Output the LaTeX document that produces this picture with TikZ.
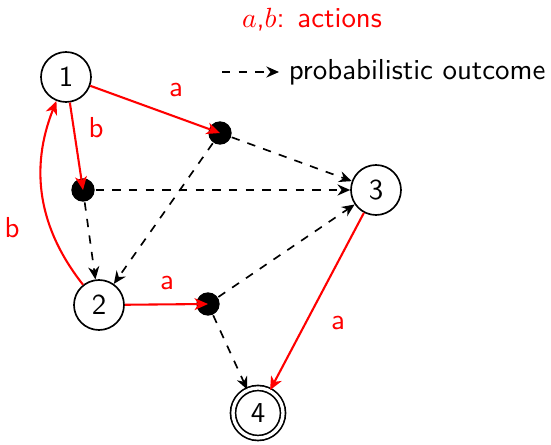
\documentclass[tikz,border=0pt]{standalone}
\usetikzlibrary{arrows.meta,positioning}

\begin{document}
\begin{tikzpicture}[x=0.36pt,y=-0.36pt,font=\sffamily\fontsize{10.4}{12}\selectfont,semithick,
      state/.style={draw,circle,minimum size=18pt,inner sep=0pt},
      final/.style={state,double,double distance=1.2pt},
      choice/.style={circle,fill=black,minimum size=8.4pt,inner sep=0pt},
      act/.style={red,line width=0.75pt,-{Stealth[length=1.7mm,width=1.5mm,inset=0.5mm]}},
      outcome/.style={dashed,-{Stealth[length=1.6mm,width=1.4mm]}},
      lab/.style={red}]
    \useasboundingbox (0,0) rectangle (551,445);
    % states
    \node[state] (one) at (66,77) {1};
    \node[state] (two) at (99,305) {2};
    \node[state] (three) at (376,190) {3};
    \node[final] (four) at (258,413) {4};
    % outcome points
    \node[choice] (p1a) at (220,133) {};
    \node[choice] (p1b) at (83,190) {};
    \node[choice] (p2a) at (208,304) {};
    % outcomes
    \foreach \a/\b in {p1a/three,p1a/two,p1b/three,p1b/two,p2a/three,p2a/four}
      \draw[outcome] (\a) -- (\b);
    % actions
    \draw[act] (one) -- (p1a.center);
    \draw[act] (one) -- (p1b.center);
    \draw[act] (two) to[bend left=30] (one);
    \draw[act] (two) -- (p2a.center);
    \draw[act] (three) -- (four);
    \node[lab] (la1) at (176,90) {a};
    \node[lab] (lb1) at (96,128) {b};
    \node[lab] (lb2) at (12,228) {b};
    \node[lab] (la2) at (167,283) {a};
    \node[lab] (la3) at (338,323) {a};
    % legend
    \node[red] (leg1) at (312,20) {$a$,$b$: actions};
    \coordinate (ls) at (222,72);
    \coordinate (le) at (279,72);
    \draw[outcome] (ls) -- (le);
    \node[anchor=west,inner sep=0pt] (leg2) at (288,72) {probabilistic outcome};
\end{tikzpicture}
\end{document}
